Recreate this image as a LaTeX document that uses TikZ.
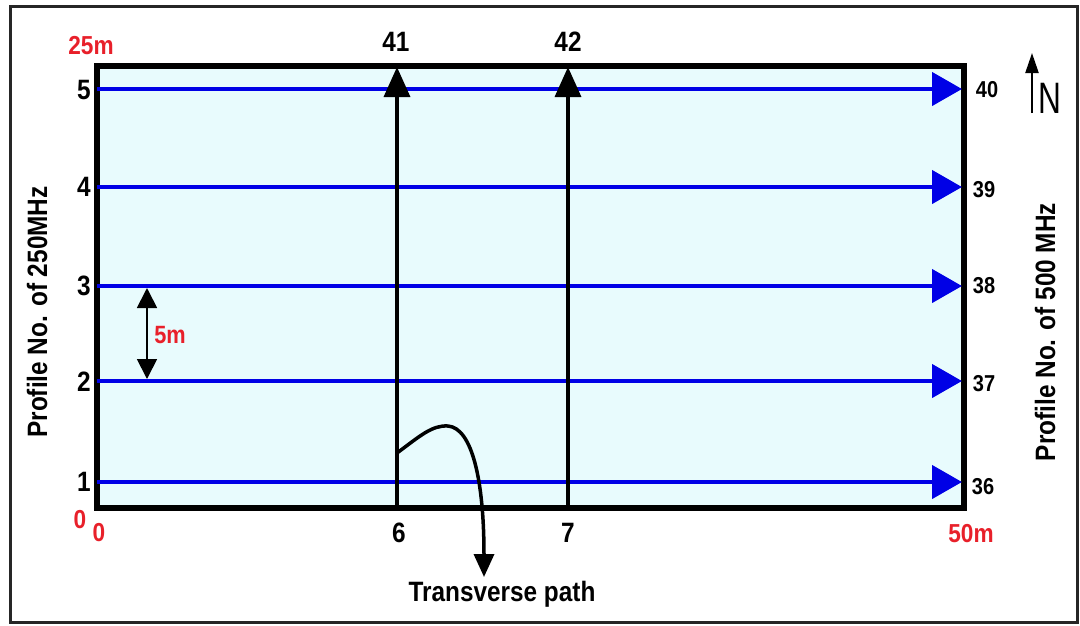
\documentclass[tikz,border=0pt]{standalone}
\usepackage{fontspec}
\setmainfont{Liberation Sans}[FakeStretch=0.87]
\newfontfamily\nfont{Liberation Sans}[FakeStretch=0.72]
\usetikzlibrary{arrows.meta}
\definecolor{fieldfill}{HTML}{E8FBFD}
\definecolor{lblred}{HTML}{E8202A}
\definecolor{pblue}{HTML}{0000E6}
\tikzset{
  lbl/.style={font=\bfseries\fontsize{28}{32}\selectfont, inner sep=0pt},
  rlbl/.style={font=\bfseries\fontsize{23}{26}\selectfont, inner sep=0pt},
  redlbl/.style={lbl, text=lblred, font=\bfseries\fontsize{26}{28}\selectfont},
  blueprof/.style={draw=pblue, line width=4.5pt, -{Triangle[length=30pt,width=33pt]}},
  blackprof/.style={draw=black, line width=3.5pt, -{Triangle[length=30pt,width=26pt]}},
}
\begin{document}
\begin{tikzpicture}[x=1pt,y=-1pt]
\useasboundingbox (0,0) rectangle (1080,625);
\draw[line width=3pt, draw=black!85] (10,6) rectangle (1077,622);
\filldraw[fill=fieldfill, draw=black, line width=5.5pt] (97,66) rectangle (964,508);
% blue 250 MHz profiles
\foreach \i/\y in {1/482,2/381,3/286,4/187,5/89}{
  \coordinate (L\i) at (97,\y);
  \coordinate (R\i) at (962,\y);
  \draw[blueprof] (L\i) -- (R\i);
}
% black 500 MHz profiles
\coordinate (B6) at (397,507);
\coordinate (T6) at (397,67);
\coordinate (B7) at (568,507);
\coordinate (T7) at (568,67);
\draw[blackprof] (B6) -- (T6);
\draw[blackprof] (B7) -- (T7);
% transverse path
\coordinate (TPs) at (397,453);
\coordinate (TPe) at (484,577);
\draw[line width=3.5pt, -{Triangle[length=23pt,width=20pt]}]
  (TPs) .. controls (420,436) and (432,425) .. (448,426)
        .. controls (472,428) and (484,480) .. (TPe);
\node[lbl] (tp) at (502,594) {Transverse path};
% 5m spacing arrow
\coordinate (S1) at (147,288);
\coordinate (S2) at (147,379);
\draw[line width=1.8pt, {Triangle[length=20pt,width=20pt]}-{Triangle[length=20pt,width=20pt]}] (S1) -- (S2);
\node[redlbl, font=\bfseries\fontsize{25}{28}\selectfont] (fivem) at (170,335) {5m};
% left numbers
\node[lbl] (n5) at (84,90) {5};
\node[lbl] (n4) at (84,187) {4};
\node[lbl] (n3) at (84,286) {3};
\node[lbl] (n2) at (84,382) {2};
\node[lbl] (n1) at (84,482) {1};
% right numbers
\node[rlbl] (n40) at (987,90) {40};
\node[rlbl] (n39) at (984,190) {39};
\node[rlbl] (n38) at (984,286) {38};
\node[rlbl] (n37) at (984,384) {37};
\node[rlbl] (n36) at (983,487) {36};
% top / bottom numbers
\node[lbl] (n41) at (396,42) {41};
\node[lbl] (n42) at (568,42) {42};
\node[lbl] (n6) at (399,533) {6};
\node[lbl] (n7) at (568,533) {7};
% red scale labels
\node[redlbl] (m25) at (91,46) {25m};
\node[redlbl] (z1) at (80,520) {0};
\node[redlbl] (z2) at (99,533) {0};
\node[redlbl] (m50) at (971,534) {50m};
% axis titles
\node[lbl, rotate=90] (lt) at (37,312) {Profile No. of 250MHz};
\node[lbl, rotate=90] (rt) at (1045,332) {Profile No. of 500 MHz};
% north arrow
\coordinate (Nb) at (1032,113);
\coordinate (Nt) at (1032,53);
\draw[line width=2.2pt, -{Triangle[length=20pt,width=13pt]}] (Nb) -- (Nt);
\node[font=\nfont\fontsize{44}{46}\selectfont, inner sep=0pt] (north) at (1050,98) {N};
\end{tikzpicture}
\end{document}
